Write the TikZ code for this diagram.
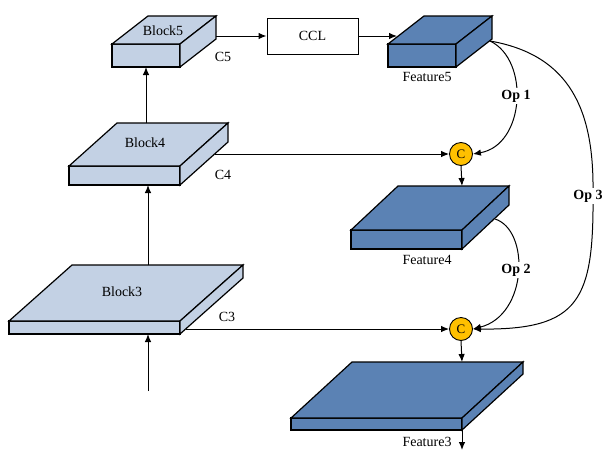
\documentclass[tikz,border=0pt]{standalone}
\usepackage{fontspec}
\setmainfont{Liberation Serif}
\usetikzlibrary{arrows.meta}

\definecolor{blockfill}{HTML}{C3D1E4}
\definecolor{featfill}{HTML}{5B82B4}
\definecolor{catfill}{HTML}{FFC000}

\tikzset{
  txt/.style={font=\fontsize{14}{16}\selectfont, inner sep=1pt},
  oplabel/.style={font=\fontsize{14}{16}\selectfont\bfseries, fill=white, inner sep=1.5pt},
  slabline/.style={draw=black, line width=1.2pt, line join=miter},
  conn/.style={draw=black, line width=1pt, -{Latex[length=8pt,width=6.5pt]}},
  plainline/.style={draw=black, line width=1pt},
  catnode/.style={circle, draw=black, line width=0.9pt, fill=catfill, minimum size=23pt,
    inner sep=0pt, font=\fontsize{13}{14}\selectfont},
  ccl/.style={draw=black, line width=1pt, fill=white, minimum width=91pt, minimum height=36pt,
    font=\fontsize{14}{16}\selectfont}
}

% slab: name, x, y (front top-left), width, thickness, depth dx, depth dy, fill
\newcommand{\slab}[8]{%
  \filldraw[slabline, fill=#8] (#2,#3) -- (#2+#4,#3) -- (#2+#4,#3+#5) -- (#2,#3+#5) -- cycle;
  \filldraw[slabline, fill=#8] (#2,#3) -- (#2+#6,#3-#7) -- (#2+#4+#6,#3-#7) -- (#2+#4,#3) -- cycle;
  \filldraw[slabline, fill=#8] (#2+#4,#3) -- (#2+#4+#6,#3-#7) -- (#2+#4+#6,#3-#7+#5) -- (#2+#4,#3+#5) -- cycle;
}

\begin{document}
\begin{tikzpicture}[x=1pt,y=-1pt]
\useasboundingbox (0,0) rectangle (604,450);

% encoder blocks (light) and feature maps (dark)
\slab{block5}{112}{44}{68}{23}{36}{28}{blockfill}
\slab{block4}{69}{166}{111}{19}{48}{43}{blockfill}
\slab{block3}{9}{321}{171}{13}{63}{56}{blockfill}
\slab{feat5}{388}{44}{68}{23}{36}{28}{featfill}
\slab{feat4}{351}{230}{111}{19}{47}{44}{featfill}
\slab{feat3}{291}{418}{171}{12}{61}{56}{featfill}

% attachment points on the slabs
\coordinate (b5bottom) at (146,67);
\coordinate (b5side) at (216,36);
\coordinate (b4top) at (146,123);
\coordinate (b4bottom) at (148,185);
\coordinate (b4side) at (215,154);
\coordinate (b3top) at (148,265);
\coordinate (b3bottom) at (148,334);
\coordinate (b3side) at (186,329);
\coordinate (input) at (148,391);
\coordinate (f5top) at (397,36);
\coordinate (f5side) at (490,41);
\coordinate (f4top) at (462,186);
\coordinate (f4side) at (495,219);
\coordinate (f3top) at (462,362);
\coordinate (f3bottom) at (462,430);
\coordinate (output) at (462,450);
\coordinate (op3mid) at (593,192);

% nodes
\node[ccl] (cclbox) at (312.5,36) {CCL};
\node[catnode] (cat1) at (461,154) {C};
\node[catnode] (cat2) at (461,329) {C};

\node[txt] (lb5) at (163,31) {Block5};
\node[txt] (lb4) at (145,143) {Block4};
\node[txt] (lb3) at (122,292) {Block3};
\node[txt] (lc5) at (223,57) {C5};
\node[txt] (lc4) at (223,175) {C4};
\node[txt] (lc3) at (227,317) {C3};
\node[txt] (lf5) at (427,77) {Feature5};
\node[txt] (lf4) at (427,260) {Feature4};
\node[txt] (lf3) at (427,442) {Feature3};

% backbone connectors
\draw[conn] (input) -- (b3bottom);
\draw[conn] (b3top) -- (b4bottom);
\draw[conn] (b4top) -- (b5bottom);
\draw[conn] (b5side) -- (cclbox.west);
\draw[conn] (cclbox.east) -- (f5top);

% lateral connectors
\draw[conn] (b4side) -- (cat1.west);
\draw[conn] (b3side) -- (cat2.west);
\draw[conn] (cat1.south) -- (f4top);
\draw[conn] (cat2.south) -- (f3top);
\draw[conn] (f3bottom) -- (output);

% operation curves
\draw[conn] (f5side) .. controls (530,60) and (525,145) .. (cat1.east);
\draw[conn] (f4side) .. controls (530,230) and (528,315) .. (cat2.east);
\draw[plainline] (f5side) .. controls (570,55) and (594,110) .. (op3mid);
\draw[conn] (op3mid) .. controls (594,300) and (580,330) .. (cat2.east);

\node[oplabel] (op1) at (516,96) {Op 1};
\node[oplabel] (op2) at (516,270) {Op 2};
\node[oplabel] (op3) at (588,196) {Op 3};
\end{tikzpicture}
\end{document}
